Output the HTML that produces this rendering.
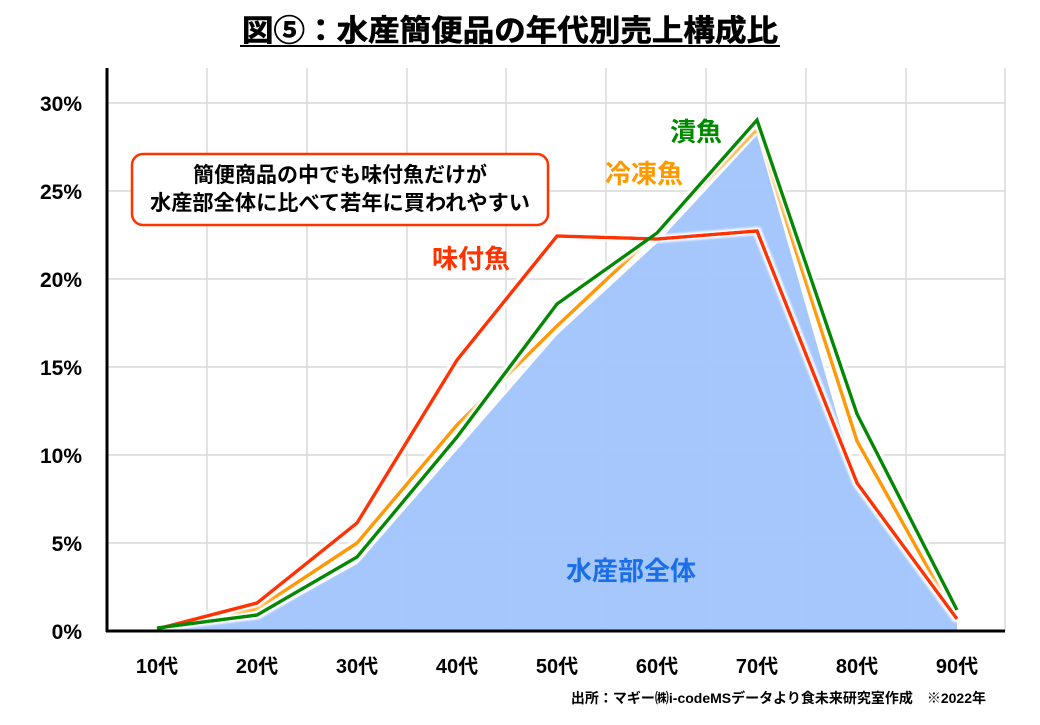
<!DOCTYPE html>
<html><head><meta charset="utf-8"><style>
body{margin:0;background:#fff;}
svg text{font-family:"Liberation Sans","Noto Sans CJK JP",sans-serif;font-weight:bold;}
</style></head><body>
<svg width="1040" height="720" viewBox="0 0 1040 720" xmlns="http://www.w3.org/2000/svg">
<defs><filter id="g" x="-10%" y="-10%" width="120%" height="120%"><feMorphology operator="dilate" radius="2" in="SourceAlpha" result="d"/><feFlood flood-color="#fff"/><feComposite in2="d" operator="in" result="w"/><feGaussianBlur in="w" stdDeviation="1" result="wb"/><feMerge><feMergeNode in="wb"/><feMergeNode in="SourceGraphic"/></feMerge></filter></defs>
<text x="510" y="41" font-size="30" text-anchor="middle" fill="#000" textLength="536" lengthAdjust="spacingAndGlyphs" stroke="#000" stroke-width="0.6">図⑤：水産簡便品の年代別売上構成比</text>
<line x1="240" y1="46" x2="780" y2="46" stroke="#000" stroke-width="2"/>
<g stroke="#d9d9d9" stroke-width="1.5">
<line x1="107" y1="103" x2="1005" y2="103"/><line x1="107" y1="191" x2="1005" y2="191"/><line x1="107" y1="279" x2="1005" y2="279"/><line x1="107" y1="367" x2="1005" y2="367"/><line x1="107" y1="455" x2="1005" y2="455"/><line x1="107" y1="543" x2="1005" y2="543"/>
<line x1="207" y1="68" x2="207" y2="631"/><line x1="307" y1="68" x2="307" y2="631"/><line x1="407" y1="68" x2="407" y2="631"/><line x1="506" y1="68" x2="506" y2="631"/><line x1="606" y1="68" x2="606" y2="631"/><line x1="706" y1="68" x2="706" y2="631"/><line x1="806" y1="68" x2="806" y2="631"/><line x1="906" y1="68" x2="906" y2="631"/><line x1="1005" y1="68" x2="1005" y2="631"/>
</g>
<g fill="none" stroke-width="3.5" filter="url(#g)">
<polyline stroke="#ff9900" points="157,629 257,609 357,543 457,425 557,326 657,232 757,130 857,441 957,620"/>
</g>
<polygon filter="url(#g)" fill="#9ec3fb" fill-opacity="0.95" points="157,631 157,629 257,619 357,564 457,450 557,335 657,243 757,135 857,485 957,622 957,631"/>
<g fill="none" stroke-width="3.5" filter="url(#g)">
<polyline stroke="#ff3300" points="157,629 257,603 357,523 457,360 557,236 657,239 757,231 857,483 957,619"/>
<polyline stroke="#008a00" points="157,628 257,615 357,557 457,437 557,304 657,233 757,120 857,414 957,610"/>
</g>
<line x1="107" y1="68" x2="107" y2="632" stroke="#000" stroke-width="3"/>
<line x1="106" y1="631" x2="1005" y2="631" stroke="#000" stroke-width="3"/>
<g font-size="21" fill="#000" text-anchor="end">
<text x="82" y="111">30%</text><text x="82" y="199">25%</text><text x="82" y="287">20%</text><text x="82" y="375">15%</text><text x="82" y="463">10%</text><text x="82" y="551">5%</text><text x="82" y="639">0%</text>
</g>
<g font-size="20" fill="#000" text-anchor="middle">
<text x="157" y="673">10代</text><text x="257" y="673">20代</text><text x="357" y="673">30代</text><text x="457" y="673">40代</text><text x="557" y="673">50代</text><text x="657" y="673">60代</text><text x="757" y="673">70代</text><text x="857" y="673">80代</text><text x="957" y="673">90代</text>
</g>
<rect x="132" y="154" width="416" height="71" rx="11" fill="#fff" stroke="#ff3300" stroke-width="2.5"/>
<text x="340" y="182" font-size="21" text-anchor="middle" fill="#000">簡便商品の中でも味付魚だけが</text>
<text x="340" y="210" font-size="21" text-anchor="middle" fill="#000" textLength="380" lengthAdjust="spacingAndGlyphs">水産部全体に比べて若年に買われやすい</text>
<text x="432" y="268" font-size="26" fill="#ff3300">味付魚</text>
<text x="605" y="183" font-size="26" fill="#ff9900">冷凍魚</text>
<text x="670" y="141" font-size="26" fill="#008a00">漬魚</text>
<text x="566" y="580" font-size="26" fill="#1a6fe8">水産部全体</text>
<text x="986" y="703" font-size="14" text-anchor="end" fill="#000">出所：マギー㈱i-codeMSデータより食未来研究室作成　※2022年</text>
</svg>
</body></html>
